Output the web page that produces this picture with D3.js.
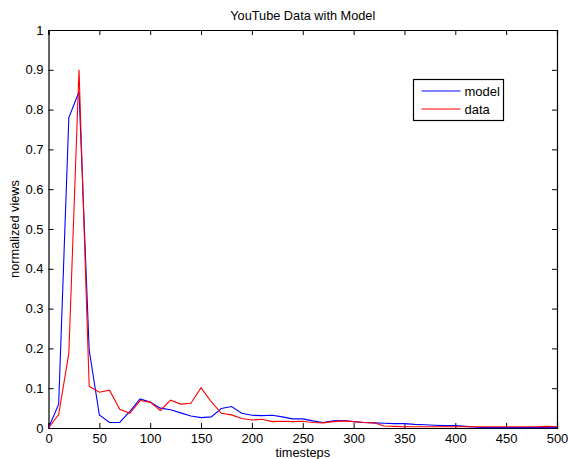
<!DOCTYPE html>
<html>
<head>
<meta charset="utf-8">
<script src="https://cdn.jsdelivr.net/npm/d3@7"></script>
<style>
  body { margin: 0; background: #fff; }
  svg { display: block; font-family: "Liberation Sans", Arial, sans-serif; }
</style>
</head>
<body>
<div id="chart"></div>
<script>
// timesteps sampled every 10
const timesteps = d3.range(0, 501, 10);

const modelViews = [
  0, 0.06, 0.78, 0.845, 0.196, 0.033, 0.014, 0.014, 0.042, 0.073,
  0.065, 0.05, 0.046, 0.038, 0.03, 0.026, 0.028, 0.049, 0.054, 0.037,
  0.032, 0.031, 0.032, 0.028, 0.023, 0.023, 0.018, 0.014, 0.018, 0.019,
  0.016, 0.014, 0.013, 0.012, 0.011, 0.011, 0.009, 0.008, 0.007, 0.006,
  0.006, 0.004, 0.002, 0.001, 0.001, 0.001, 0.001, 0.001, 0.001, 0.001,
  0.001
];

const dataViews = [
  0, 0.034, 0.188, 0.9, 0.105, 0.09, 0.095, 0.047, 0.037, 0.069,
  0.065, 0.044, 0.07, 0.06, 0.062, 0.101, 0.066, 0.037, 0.033, 0.024,
  0.02, 0.022, 0.016, 0.017, 0.016, 0.017, 0.014, 0.013, 0.016, 0.018,
  0.016, 0.014, 0.013, 0.005, 0.004, 0.003, 0.003, 0.003, 0.003, 0.003,
  0.003, 0.003, 0.003, 0.003, 0.003, 0.003, 0.003, 0.003, 0.003, 0.004,
  0.003
];

const xTicks = d3.range(0, 501, 50);
const yTicks = d3.range(0, 1.01, 0.1);

const seriesNames = ['model', 'data'];
const seriesColors = ['#0000ff', '#ff0000'];

const width = 568;
const height = 459;
const margin = { top: 30, right: 11, bottom: 31, left: 48.5 };

const svg = d3.select('#chart')
  .append('svg')
  .attr('width', width)
  .attr('height', height);

const xScale = d3.scaleLinear()
  .domain([0, 500])
  .range([margin.left, width - margin.right]);

const yScale = d3.scaleLinear()
  .domain([0, 1])
  .range([height - margin.bottom, margin.top]);

const fmtY = (d) => (d === 0 || d === 1) ? String(d) : d3.format('.1f')(d);

// bottom axis (inward ticks, MATLAB style)
svg.append('g')
  .attr('transform', `translate(0, ${yScale(0)})`)
  .call(d3.axisBottom(xScale).tickValues(xTicks).tickSize(-5).tickPadding(5.5).tickFormat(d3.format('d')));

// top axis ticks, no labels
svg.append('g')
  .attr('transform', `translate(0, ${yScale(1)})`)
  .call(d3.axisTop(xScale).tickValues(xTicks).tickSize(-5).tickFormat(''));

// left axis
svg.append('g')
  .attr('transform', `translate(${xScale(0)}, 0)`)
  .call(d3.axisLeft(yScale).tickValues(yTicks).tickSize(-5).tickPadding(5).tickFormat(fmtY));

// right axis ticks, no labels
svg.append('g')
  .attr('transform', `translate(${xScale(500)}, 0)`)
  .call(d3.axisRight(yScale).tickValues(yTicks).tickSize(-5).tickFormat(''));

svg.selectAll('.domain').attr('stroke', '#000').attr('stroke-width', 1.2);
svg.selectAll('.tick line').attr('stroke', '#000');
svg.selectAll('.tick text')
  .attr('fill', '#000')
  .attr('font-size', 13)
  .attr('font-family', '"Liberation Sans", Arial, sans-serif');

const line = d3.line()
  .x((d, i) => xScale(timesteps[i]))
  .y((d) => yScale(d));

const lines = svg.append('g').attr('class', 'lines');

lines.append('path')
  .datum(modelViews)
  .attr('fill', 'none')
  .attr('stroke', seriesColors[0])
  .attr('stroke-width', 1.1)
  .attr('d', line);

lines.append('path')
  .datum(dataViews)
  .attr('fill', 'none')
  .attr('stroke', seriesColors[1])
  .attr('stroke-width', 1.1)
  .attr('d', line);

// title and labels
svg.append('text')
  .attr('x', (xScale(0) + xScale(500)) / 2)
  .attr('y', 20)
  .attr('text-anchor', 'middle')
  .attr('font-size', 12.75)
  .text('YouTube Data with Model');

svg.append('text')
  .attr('x', (xScale(0) + xScale(500)) / 2)
  .attr('y', 457)
  .attr('text-anchor', 'middle')
  .attr('font-size', 12.75)
  .text('timesteps');

svg.append('text')
  .attr('transform', `translate(18.5, ${(yScale(0) + yScale(1)) / 2}) rotate(-90)`)
  .attr('text-anchor', 'middle')
  .attr('font-size', 12.75)
  .text('normalized views');

// legend
const legend = svg.append('g').attr('transform', 'translate(413.5, 79.5)');

legend.append('rect')
  .attr('width', 90)
  .attr('height', 41)
  .attr('fill', '#fff')
  .attr('stroke', '#000')
  .attr('stroke-width', 1.2);

seriesNames.forEach((name, i) => {
  const y = 11.5 + i * 18;
  legend.append('line')
    .attr('x1', 8).attr('x2', 47)
    .attr('y1', y).attr('y2', y)
    .attr('stroke', seriesColors[i])
    .attr('stroke-width', 1.1);
  legend.append('text')
    .attr('x', 51)
    .attr('y', y + 4.5)
    .attr('font-size', 13)
    .text(name);
});
</script>
</body>
</html>
